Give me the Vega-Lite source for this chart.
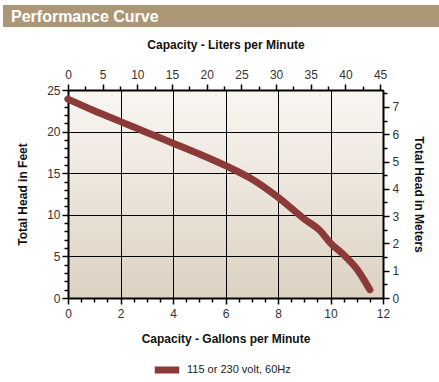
{
  "$schema": "https://vega.github.io/schema/vega-lite/v6.json",
  "padding": {"left": 3, "top": 5, "right": 0, "bottom": 0},
  "background": "white",
  "spacing": 63,
  "bounds": "flush",
  "center": true,
  "resolve": {"legend": {"color": "independent"}},
  "config": {
    "font": "Liberation Sans",
    "view": {"stroke": null},
    "axis": {"labelFont": "Liberation Sans", "labelFontSize": 12, "labelColor": "#333333", "titleFont": "Liberation Sans", "titleFontSize": 12, "titleFontWeight": "bold", "titleColor": "#111111", "domainColor": "black", "domainWidth": 2, "tickColor": "black", "tickWidth": 1.5, "gridColor": "black", "gridWidth": 1, "format": "d"}
  },
  "vconcat": [
    {
      "width": 445,
      "height": 22,
      "view": {"fill": "#ab9777", "stroke": null},
      "data": {"values": [{"pos": 0, "label": "Performance Curve"}]},
      "mark": {"type": "text", "align": "left", "baseline": "middle", "dx": 8, "dy": 1, "fontSize": 16, "fontWeight": "bold", "color": "white", "font": "Liberation Sans"},
      "encoding": {
        "x": {"field": "pos", "type": "quantitative", "scale": {"domain": [0, 1]}, "axis": null},
        "text": {"field": "label"}
      }
    },
    {
      "width": 315,
      "height": 208,
      "view": {"fill": {"gradient": "linear", "x1": 0, "y1": 0, "x2": 0, "y2": 1, "stops": [{"offset": 0, "color": "#f9f6f2"}, {"offset": 1, "color": "#ddd2c2"}]}, "stroke": null},
      "resolve": {"scale": {"x": "independent", "y": "independent"}},
      "layer": [
        {
          "data": {"values": [
            {"gpm": 0, "ft": 23.9, "series": "115 or 230 volt, 60Hz"},
            {"gpm": 1, "ft": 22.5, "series": "115 or 230 volt, 60Hz"},
            {"gpm": 2, "ft": 21.2, "series": "115 or 230 volt, 60Hz"},
            {"gpm": 3, "ft": 19.9, "series": "115 or 230 volt, 60Hz"},
            {"gpm": 4, "ft": 18.6, "series": "115 or 230 volt, 60Hz"},
            {"gpm": 5, "ft": 17.3, "series": "115 or 230 volt, 60Hz"},
            {"gpm": 6, "ft": 15.9, "series": "115 or 230 volt, 60Hz"},
            {"gpm": 7, "ft": 14.3, "series": "115 or 230 volt, 60Hz"},
            {"gpm": 8, "ft": 12.1, "series": "115 or 230 volt, 60Hz"},
            {"gpm": 9, "ft": 9.5, "series": "115 or 230 volt, 60Hz"},
            {"gpm": 9.6, "ft": 8.1, "series": "115 or 230 volt, 60Hz"},
            {"gpm": 10, "ft": 6.6, "series": "115 or 230 volt, 60Hz"},
            {"gpm": 10.5, "ft": 5.2, "series": "115 or 230 volt, 60Hz"},
            {"gpm": 11, "ft": 3.5, "series": "115 or 230 volt, 60Hz"},
            {"gpm": 11.5, "ft": 1.0, "series": "115 or 230 volt, 60Hz"}
          ]},
          "mark": {"type": "line", "strokeWidth": 7, "strokeCap": "round", "strokeJoin": "round", "interpolate": "monotone"},
          "encoding": {
            "x": {"field": "gpm", "type": "quantitative", "scale": {"domain": [0, 12], "nice": false, "zero": true},
              "axis": {"orient": "bottom", "title": "Capacity - Gallons per Minute", "values": [0,0.5,1,1.5,2,2.5,3,3.5,4,4.5,5,5.5,6,6.5,7,7.5,8,8.5,9,9.5,10,10.5,11,11.5,12],
                "labelExpr": "datum.value % 2 === 0 ? datum.label : ''", "tickSize": {"condition": {"test": "datum.value % 2 === 0", "value": 6}, "value": 4},
                "grid": true, "gridOpacity": {"condition": {"test": "datum.value % 2 === 0", "value": 1}, "value": 0},
                "labelPadding": 4, "titlePadding": 14, "labelFlush": false}},
            "y": {"field": "ft", "type": "quantitative", "scale": {"domain": [0, 25], "nice": false},
              "axis": {"orient": "left", "title": "Total Head in Feet", "values": [0,1,2,3,4,5,6,7,8,9,10,11,12,13,14,15,16,17,18,19,20,21,22,23,24,25],
                "labelExpr": "datum.value % 5 === 0 ? datum.label : ''", "tickSize": {"condition": {"test": "datum.value % 5 === 0", "value": 6}, "value": 4},
                "grid": true, "gridOpacity": {"condition": {"test": "datum.value % 5 === 0", "value": 1}, "value": 0},
                "labelPadding": 2, "titlePadding": 17, "labelFlush": false}},
            "color": {"field": "series", "type": "nominal", "scale": {"range": ["#8c3a38"]},
              "legend": {"title": null, "orient": "none", "legendX": 83, "legendY": 264, "direction": "horizontal", "symbolType": "stroke", "symbolStrokeWidth": 7, "symbolSize": 600, "labelFontSize": 11, "labelFont": "Liberation Sans", "labelColor": "#222222"}}
          }
        },
        {
          "data": {"values": [{"lpm": 0, "m": 0}, {"lpm": 45.42, "m": 7.62}]},
          "mark": {"type": "point", "opacity": 0},
          "encoding": {
            "x": {"field": "lpm", "type": "quantitative", "scale": {"domain": [0, 45.42], "nice": false},
              "axis": {"orient": "top", "title": "Capacity - Liters per Minute", "values": [0,2.5,5,7.5,10,12.5,15,17.5,20,22.5,25,27.5,30,32.5,35,37.5,40,42.5,45],
                "labelExpr": "datum.value % 5 === 0 ? datum.label : ''", "tickSize": {"condition": {"test": "datum.value % 5 === 0", "value": 6}, "value": 4},
                "grid": false, "labelPadding": 3, "titlePadding": 17, "labelFlush": false}},
            "y": {"field": "m", "type": "quantitative", "scale": {"domain": [0, 7.62], "nice": false},
              "axis": {"orient": "right", "title": "Total Head in Meters", "values": [0,0.5,1,1.5,2,2.5,3,3.5,4,4.5,5,5.5,6,6.5,7,7.5],
                "labelExpr": "datum.value % 1 === 0 ? datum.label : ''", "tickSize": {"condition": {"test": "datum.value % 1 === 0", "value": 6}, "value": 4},
                "grid": false, "labelPadding": 3, "titlePadding": 13, "labelFlush": false}}
          }
        }
      ]
    }
  ]
}
